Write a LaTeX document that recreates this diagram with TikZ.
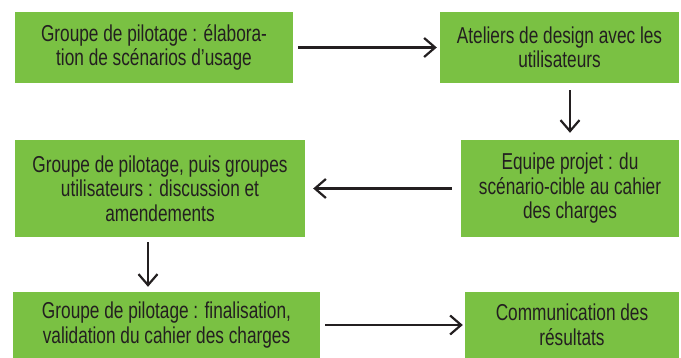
\documentclass[tikz,border=0pt]{standalone}
\usepackage{fontspec}
\setmainfont[FakeStretch=0.75]{Liberation Sans}
\usetikzlibrary{positioning,arrows.meta}
\definecolor{boxgreen}{RGB}{122,193,67}
\definecolor{ink}{RGB}{35,31,32}
\tikzset{
  etape/.style={fill=boxgreen, text=ink, align=center, inner sep=0pt,
    font=\fontsize{23}{24.5}\selectfont},
  fleche/.style={draw=ink, line width=2.2pt,
    -{Straight Barb[length=11pt,width=19pt]}}
}

\begin{document}
\begin{tikzpicture}[x=1pt,y=-1pt]
\useasboundingbox (0,0) rectangle (681,358);
\node[etape, minimum width=278, minimum height=71] (pilotage) at (154,47.5)
  {Groupe de pilotage : élabora-\\tion de scénarios d’usage};
\node[etape, minimum width=239, minimum height=71] (ateliers) at (559.5,47.5)
  {Ateliers de design avec les\\utilisateurs};
\node[etape, minimum width=218, minimum height=97] (equipe) at (570,188.5)
  {Equipe projet : du\\scénario-cible au cahier\\des charges};
\node[etape, minimum width=290, minimum height=97] (discussion) at (160,188.5)
  {Groupe de pilotage, puis groupes\\utilisateurs : discussion et\\amendements};
\node[etape, minimum width=307, minimum height=66] (validation) at (166.5,325)
  {Groupe de pilotage : finalisation,\\validation du cahier des charges};
\node[etape, minimum width=214, minimum height=66] (communication) at (572,325)
  {Communication des\\résultats};

\draw[fleche, shorten <=5pt, shorten >=3pt] (pilotage) -- (ateliers);
\draw[fleche, shorten <=7pt, shorten >=7pt] (equipe.north |- ateliers.south) -- (equipe.north);
\draw[fleche, shorten <=9pt, shorten >=8pt] (equipe) -- (discussion);
\draw[fleche, shorten <=5pt, shorten >=5pt] ([xshift=-12pt]discussion.south)
  -- ([xshift=-12pt]discussion.south |- validation.north);
\draw[fleche, shorten <=5pt, shorten >=2pt] (validation) -- (communication);
\end{tikzpicture}
\end{document}
